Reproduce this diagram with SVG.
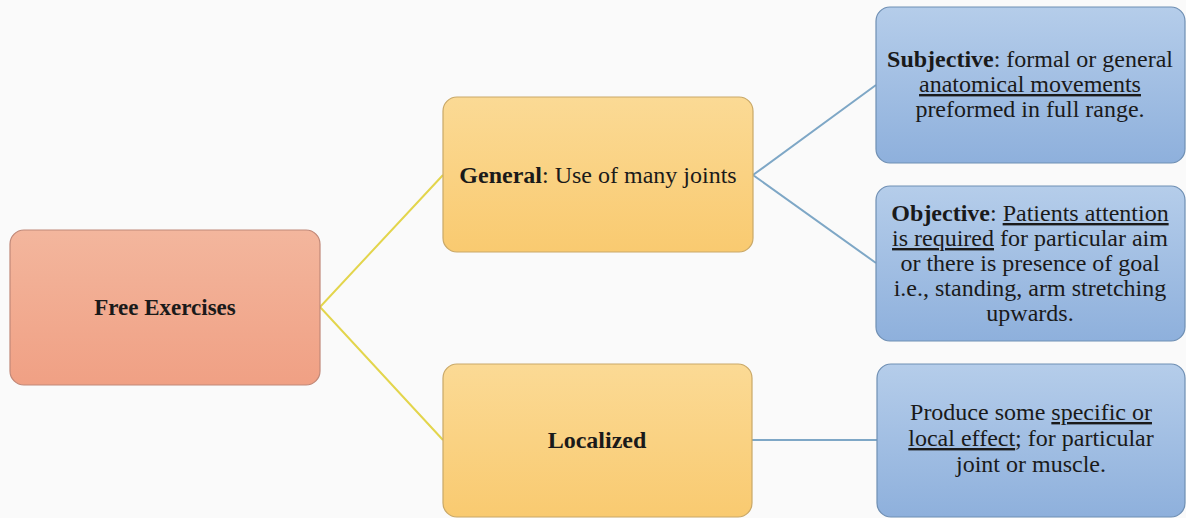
<svg xmlns="http://www.w3.org/2000/svg" width="1186" height="518" viewBox="0 0 1186 518">
<defs>
<linearGradient id="gRed" x1="0" y1="0" x2="0" y2="1"><stop offset="0" stop-color="#f3b69d"/><stop offset="1" stop-color="#f0a084"/></linearGradient>
<linearGradient id="gYel" x1="0" y1="0" x2="0" y2="1"><stop offset="0" stop-color="#fbda95"/><stop offset="1" stop-color="#f9ca70"/></linearGradient>
<linearGradient id="gBlu" x1="0" y1="0" x2="0" y2="1"><stop offset="0" stop-color="#b5cdea"/><stop offset="1" stop-color="#8eb0dc"/></linearGradient>
<style>
.t{font-family:"Liberation Serif","Times New Roman",serif;font-size:24px;fill:#1a1a1a;text-anchor:middle}
.b{font-weight:bold}
.u{text-decoration:underline}
.red{fill:url(#gRed);stroke:#c08878;stroke-width:1.2}
.yel{fill:url(#gYel);stroke:#c9a868;stroke-width:1.2}
.blu{fill:url(#gBlu);stroke:#6f8fb3;stroke-width:1.2}
.cy{stroke:#e3d54c;stroke-width:2;fill:none}
.cb{stroke:#7ea7c6;stroke-width:2;fill:none}
</style>
</defs>
<rect width="1186" height="518" fill="#fafafa"/>
<g id="connectors">
<polyline class="cy" points="443,175 320,307 443,440"/>
<polyline class="cb" points="876,85 753,175 876,263"/>
<line class="cb" x1="752" y1="440" x2="877" y2="440"/>
</g>
<g id="free">
<rect class="red" x="10" y="230" width="310" height="155" rx="14"/>
<text class="t b" x="165" y="315" style="font-size:23px">Free Exercises</text>
</g>
<g id="general">
<rect class="yel" x="443" y="97" width="310" height="155" rx="14"/>
<text class="t" x="598" y="183"><tspan class="b">General</tspan>: Use of many joints</text>
</g>
<g id="localized">
<rect class="yel" x="443" y="364" width="309" height="153" rx="14"/>
<text class="t b" x="597" y="448">Localized</text>
</g>
<g id="subjective">
<rect class="blu" x="876" y="7" width="309" height="156" rx="14"/>
<text class="t" x="1030" y="67"><tspan class="b">Subjective</tspan>: formal or general</text>
<text class="t" x="1030" y="92"><tspan class="u">anatomical movements</tspan></text>
<text class="t" x="1030" y="117">preformed in full range.</text>
</g>
<g id="objective">
<rect class="blu" x="876" y="186" width="309" height="155" rx="14"/>
<text class="t" x="1030" y="221"><tspan class="b">Objective</tspan>: <tspan class="u">Patients attention</tspan></text>
<text class="t" x="1030" y="246"><tspan class="u">is required</tspan> for particular aim</text>
<text class="t" x="1030" y="271">or there is presence of goal</text>
<text class="t" x="1030" y="296">i.e., standing, arm stretching</text>
<text class="t" x="1030" y="321">upwards.</text>
</g>
<g id="local-effect">
<rect class="blu" x="877" y="364" width="308" height="153" rx="14"/>
<text class="t" x="1031" y="420">Produce some <tspan class="u">specific or</tspan></text>
<text class="t" x="1031" y="446"><tspan class="u">local effect</tspan>; for particular</text>
<text class="t" x="1031" y="472">joint or muscle.</text>
</g>
</svg>
